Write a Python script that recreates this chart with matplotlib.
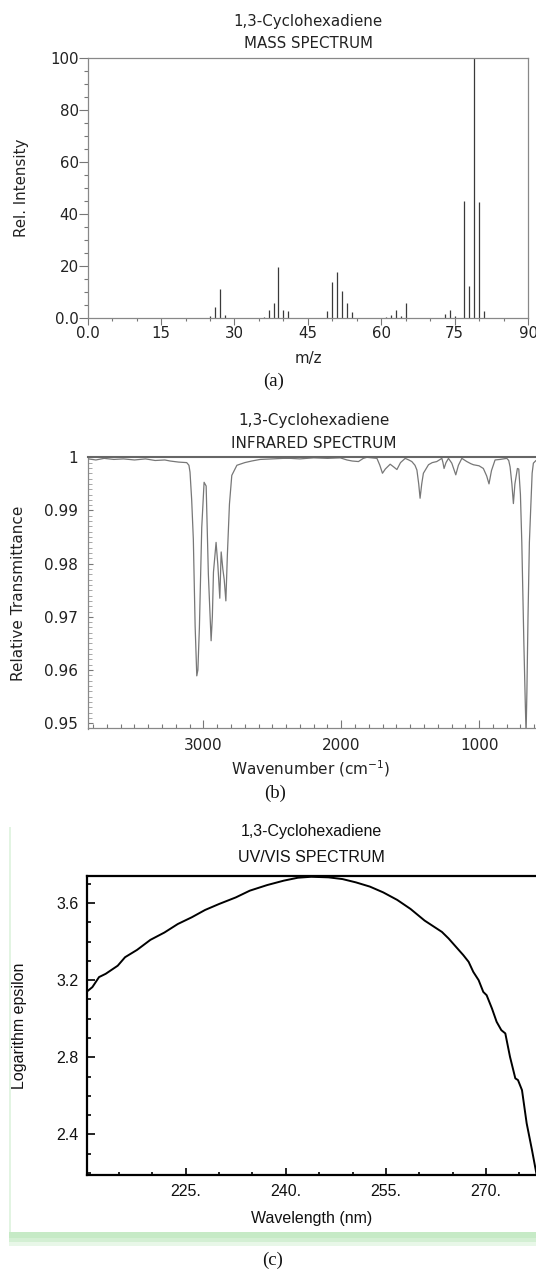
import matplotlib
matplotlib.use('Agg')
import matplotlib.pyplot as plt
from matplotlib.ticker import MultipleLocator
from matplotlib.patches import Rectangle

W, H = 536, 1271

# (a) mass spectrum: m/z and relative intensity
ms_mz = [25, 26, 27, 28, 36, 37, 38, 39, 40, 41, 49, 50, 51, 52, 53, 54,
         61, 62, 63, 64, 65, 73, 74, 75, 77, 78, 79, 80, 81]
ms_int = [0.6, 4.0, 11.0, 0.8, 0.3, 2.8, 5.5, 19.6, 2.8, 2.4, 2.4, 13.7, 17.6, 10.1, 5.5, 2.0,
          0.3, 1.0, 2.8, 0.6, 5.5, 1.3, 2.7, 0.5, 44.7, 12.2, 100.0, 44.4, 2.4]
ms_xticks = [0, 15, 30, 45, 60, 75, 90]
ms_xlabels = ['0.0', '15', '30', '45', '60', '75', '90']
ms_yticks = [0, 20, 40, 60, 80, 100]
ms_ylabels = ['0.0', '20', '40', '60', '80', '100']

# (b) infrared spectrum: wavenumber (cm-1) and relative transmittance
ir_wn = [3835, 3780, 3720, 3650, 3580, 3500, 3420, 3350, 3280, 3241, 3180, 3121, 3105, 3097,
         3085, 3073, 3060, 3048, 3040, 3029, 3012, 2995, 2980, 2964, 2944, 2935, 2927, 2908,
         2895, 2881, 2871, 2859, 2849, 2837, 2826, 2811, 2794, 2757, 2700, 2650, 2588, 2500,
         2420, 2369, 2300, 2200, 2100, 2007, 1959, 1920, 1875, 1840, 1814, 1741, 1720, 1701,
         1680, 1645, 1620, 1596, 1570, 1536, 1510, 1488, 1465, 1451, 1438, 1428, 1416, 1404,
         1367, 1340, 1307, 1270, 1262, 1254, 1240, 1222, 1198, 1169, 1150, 1125, 1089, 1060,
         1041, 1000, 969, 945, 928, 910, 884, 848, 799, 785, 775, 762, 751, 740, 722, 712,
         700, 690, 675, 665, 659, 653, 645, 635, 625, 615, 606, 587, 558]
ir_t = [0.9997, 0.9995, 0.9998, 0.9996, 0.9997, 0.9995, 0.9997, 0.9994, 0.9995, 0.9993,
        0.9991, 0.9990, 0.9985, 0.9972, 0.9920, 0.9846, 0.9683, 0.9589, 0.9600, 0.9680,
        0.9868, 0.9953, 0.9946, 0.9780, 0.9655, 0.9700, 0.9784, 0.9840, 0.9797, 0.9735,
        0.9822, 0.9790, 0.9770, 0.9730, 0.9817, 0.9912, 0.9966, 0.9985, 0.9990, 0.9993,
        0.9996, 0.9997, 0.9998, 0.9998, 0.9997, 0.9999, 0.9998, 0.9999, 0.9995, 0.9993,
        0.9992, 0.9998, 1.0000, 0.9998, 0.9985, 0.9970, 0.9978, 0.9987, 0.9982, 0.9977,
        0.9990, 0.9998, 0.9995, 0.9992, 0.9985, 0.9976, 0.9950, 0.9923, 0.9950, 0.9970,
        0.9986, 0.9990, 0.9992, 0.9998, 0.9990, 0.9979, 0.9990, 0.9998, 0.9989, 0.9967,
        0.9985, 0.9998, 0.9992, 0.9988, 0.9986, 0.9984, 0.9979, 0.9965, 0.9950, 0.9975,
        0.9995, 0.9996, 0.9998, 0.9994, 0.9982, 0.9950, 0.9913, 0.9950, 0.9979, 0.9978,
        0.9930, 0.9840, 0.9650, 0.9540, 0.9480, 0.9560, 0.9700, 0.9840, 0.9906, 0.9970,
        0.9989, 0.9994, 0.9996]
ir_xticks = [3000, 2000, 1000]
ir_xlabels = ['3000', '2000', '1000']
ir_yticks = [0.95, 0.96, 0.97, 0.98, 0.99, 1.0]
ir_ylabels = ['0.95', '0.96', '0.97', '0.98', '0.99', '1']

# (c) UV/VIS spectrum: wavelength (nm) and log epsilon
uv_nm = [210.15, 211.0, 212.0, 213.0, 214.8, 215.9, 217.7, 219.7, 221.8, 223.8, 225.9,
         227.9, 230.0, 232.5, 234.6, 237.2, 239.7, 241.8, 243.8, 246.4, 248.5, 250.5,
         252.6, 254.6, 256.7, 258.7, 260.8, 263.4, 264.4, 265.6, 266.6, 267.4, 268.1,
         268.9, 269.6, 270.1, 270.9, 271.6, 272.3, 272.9, 273.6, 274.4, 274.8, 275.4,
         276.1, 276.9, 277.6]
uv_loge = [3.140, 3.164, 3.216, 3.233, 3.275, 3.319, 3.357, 3.409, 3.447, 3.491, 3.526,
           3.564, 3.595, 3.629, 3.664, 3.693, 3.716, 3.731, 3.736, 3.733, 3.724, 3.707,
           3.685, 3.655, 3.616, 3.569, 3.509, 3.450, 3.416, 3.369, 3.330, 3.295, 3.243,
           3.200, 3.139, 3.122, 3.053, 2.984, 2.941, 2.924, 2.803, 2.691, 2.682, 2.630,
           2.458, 2.319, 2.190]
uv_xticks = [225, 240, 255, 270]
uv_xlabels = ['225.', '240.', '255.', '270.']
uv_yticks = [2.4, 2.8, 3.2, 3.6]
uv_ylabels = ['2.4', '2.8', '3.2', '3.6']

fig = plt.figure(figsize=(W / 100, H / 100), dpi=100)


def px_axes(l, t, r, b):
    return fig.add_axes([l / W, 1 - b / H, (r - l) / W, (b - t) / H])


def px_text(x, y, s, **kw):
    fig.text(x / W, 1 - y / H, s, ha='center', va='center', **kw)


sans = 'DejaVu Sans'
arial = 'Liberation Sans'
serif = 'Liberation Serif'

# ---------- (a) mass spectrum
ax1 = px_axes(87.7, 57.7, 528, 317.5)
ax1.vlines(ms_mz, 0, ms_int, color='#3a3a3a', lw=0.9)
ax1.set_xlim(0, 90)
ax1.set_ylim(0, 100)
ax1.set_xticks(ms_xticks, ms_xlabels, fontsize=10.8, color='#222222')
ax1.set_yticks(ms_yticks, ms_ylabels, fontsize=10.8, color='#222222')
ax1.xaxis.set_minor_locator(MultipleLocator(5))
ax1.yaxis.set_minor_locator(MultipleLocator(5))
ax1.tick_params(axis='x', which='major', direction='out', length=5, width=0.8, color='#777777', pad=1.3)
ax1.tick_params(axis='x', which='minor', direction='out', length=2.5, width=0.8, color='#777777')
ax1.tick_params(axis='y', which='major', direction='out', length=6.2, width=0.8, color='#777777', pad=0.2)
ax1.tick_params(axis='y', which='minor', direction='out', length=3, width=0.8, color='#777777')
for s in ax1.spines.values():
    s.set_color('#888888')
    s.set_linewidth(0.9)

px_text(308, 21.7, '1,3-Cyclohexadiene', fontsize=10.8, family=sans, color='#222222')
px_text(308, 44, 'MASS SPECTRUM', fontsize=10.8, family=sans, color='#222222')
px_text(22, 188, 'Rel. Intensity', fontsize=10.8, family=sans, rotation=90, color='#222222')
px_text(308, 358.5, 'm/z', fontsize=10.8, family=sans, color='#222222')
px_text(274, 381.5, '(a)', fontsize=13.5, family=serif, color='#111111')

# ---------- (b) infrared spectrum
ax2 = px_axes(88.3, 457.3, 540, 728.5)
ax2.plot(ir_wn, ir_t, color='#777777', lw=0.9)
ax2.set_xlim(3835, 558)
ax2.set_ylim(0.949, 1.0)
ax2.set_xticks(ir_xticks, ir_xlabels, fontsize=11, color='#222222')
ax2.set_yticks(ir_yticks, ir_ylabels, fontsize=11, color='#222222')
ax2.xaxis.set_minor_locator(MultipleLocator(100))
ax2.yaxis.set_minor_locator(MultipleLocator(0.001))
ax2.tick_params(axis='x', which='major', direction='in', length=5.5, width=0.8, color='#777777', pad=7)
ax2.tick_params(axis='x', which='minor', direction='in', length=3, width=0.8, color='#777777')
ax2.tick_params(axis='y', which='major', direction='in', length=3.5, width=0.8, color='#777777', pad=7.2)
ax2.tick_params(axis='y', which='minor', direction='in', length=2.8, width=0.6, color='#999999')
ax2.spines['right'].set_visible(False)
ax2.spines['top'].set_color('#666666')
ax2.spines['top'].set_linewidth(1.5)
for side in ('left', 'bottom'):
    ax2.spines[side].set_color('#888888')
    ax2.spines[side].set_linewidth(0.9)

px_text(314, 420, '1,3-Cyclohexadiene', fontsize=11, family=sans, color='#222222')
px_text(314, 444, 'INFRARED SPECTRUM', fontsize=11, family=sans, color='#222222')
px_text(19, 593, 'Relative Transmittance', fontsize=11, family=sans, rotation=90, color='#222222')
px_text(311, 769, 'Wavenumber (cm$^{-1}$)', fontsize=11, family=sans, color='#222222')
px_text(275, 793, '(b)', fontsize=13.5, family=serif, color='#111111')

# ---------- (c) UV/VIS spectrum
# light green drop shadow behind the panel
for (x0, y0, x1, y1, c) in [(9, 1232, 536, 1238, '#c6eac6'),
                            (9, 1238, 536, 1242, '#d3efd3'),
                            (9, 1242, 536, 1246, '#e8f7e8'),
                            (9, 827, 11, 1232, '#e2f4e2')]:
    fig.add_artist(Rectangle((x0 / W, 1 - y1 / H), (x1 - x0) / W, (y1 - y0) / H,
                             transform=fig.transFigure, color=c, lw=0))

ax3 = px_axes(86.7, 876, 536, 1175)
ax3.plot(uv_nm, uv_loge, color='black', lw=1.4)
ax3.set_xlim(210.15, 277.5)
ax3.set_ylim(2.19, 3.74)
ax3.set_xticks(uv_xticks, uv_xlabels, fontsize=11.5, fontfamily=arial, color='#111111')
ax3.set_yticks(uv_yticks, uv_ylabels, fontsize=11.5, fontfamily=arial, color='#111111')
ax3.xaxis.set_minor_locator(MultipleLocator(5))
ax3.yaxis.set_minor_locator(MultipleLocator(0.1))
ax3.tick_params(axis='x', which='major', direction='in', length=5, width=1.2, color='black', pad=6.3)
ax3.tick_params(axis='x', which='minor', direction='in', length=2.4, width=1.2, color='black')
ax3.tick_params(axis='y', which='major', direction='in', length=5.8, width=1.2, color='black', pad=6)
ax3.tick_params(axis='y', which='minor', direction='in', length=2.9, width=1.2, color='black')
ax3.spines['right'].set_visible(False)
for side in ('left', 'bottom', 'top'):
    ax3.spines[side].set_color('black')
    ax3.spines[side].set_linewidth(1.6)

px_text(311, 831.5, '1,3-Cyclohexadiene', fontsize=11.5, family=arial, color='#111111')
px_text(311, 858, 'UV/VIS SPECTRUM', fontsize=11.5, family=arial, color='#111111')
px_text(20, 1026, 'Logarithm epsilon', fontsize=11.5, family=arial, rotation=90, color='#111111')
px_text(312, 1219, 'Wavelength (nm)', fontsize=11.5, family=arial, color='#111111')
px_text(273, 1260, '(c)', fontsize=13.5, family=serif, color='#111111')

fig.savefig('out.png', dpi=100)
